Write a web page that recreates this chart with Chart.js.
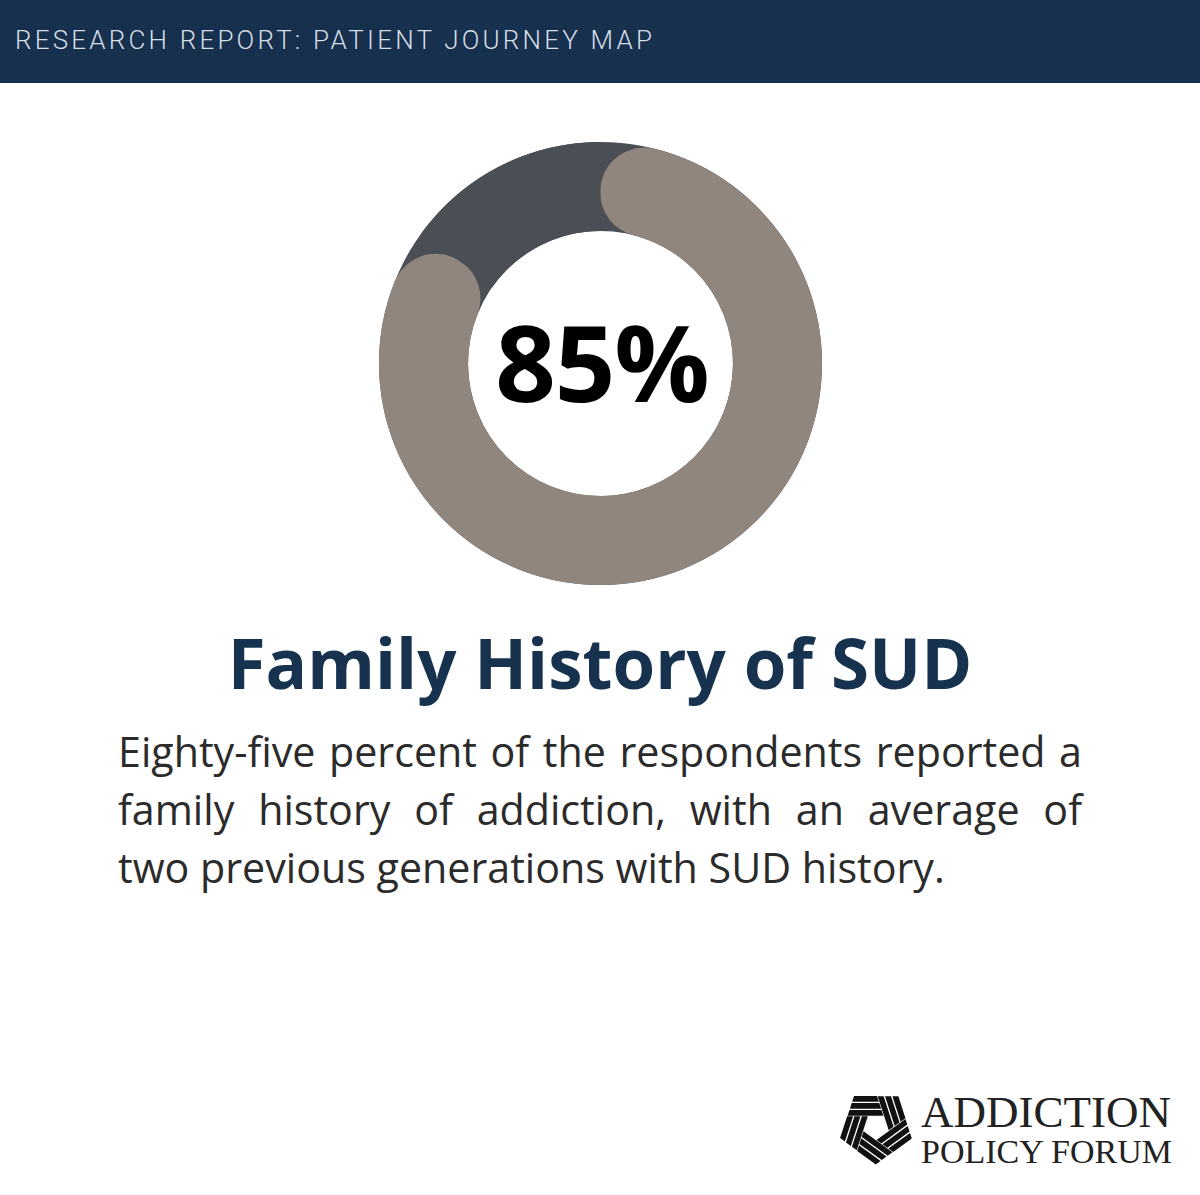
<!DOCTYPE html>
<html><head><meta charset="utf-8">
<script src="https://cdn.jsdelivr.net/npm/chart.js@4"></script>
<style>
html,body{margin:0;padding:0;background:#fff;}
body{position:relative;width:1200px;height:1195px;overflow:hidden;font-family:"Open Sans",sans-serif;}
#hdr{position:absolute;left:0;top:0;width:1200px;height:83px;background:#16304e;}
#hdrt{position:absolute;left:15px;top:24px;font:300 26px/32px Roboto,sans-serif;letter-spacing:3.2px;color:#d5dde5;white-space:nowrap;}
#wrap{position:absolute;left:379px;top:142px;width:443px;height:443px;}
#pct{position:absolute;left:400px;width:404px;top:292px;text-align:center;font:700 106px/138px "Open Sans",sans-serif;color:#000;letter-spacing:-1px;}
#ttl{position:absolute;left:0;width:1200px;top:616px;text-align:center;font:700 69px/92px "Open Sans",sans-serif;color:#17324f;}
#body{position:absolute;left:118px;top:722px;width:964px;font:400 41.2px/58px "Open Sans",sans-serif;color:#2b2b2b;}
#body div{white-space:nowrap;}
#body .j{white-space:normal;text-align:justify;text-align-last:justify;}
.lg{position:absolute;font-family:"Liberation Serif",serif;color:#222;white-space:nowrap;}
#l1{left:921px;top:1092px;font-size:45px;line-height:40px;}
#l2{left:921px;top:1135px;font-size:34px;line-height:34px;}
#emb{position:absolute;left:835px;top:1090px;}
</style></head><body>
<div id="hdr"><div id="hdrt">RESEARCH REPORT: PATIENT JOURNEY MAP</div></div>
<div id="wrap"><canvas id="c" width="443" height="443"></canvas></div>
<div id="pct">85%</div>
<div id="ttl">Family History of SUD</div>
<div id="body"><div class="j">Eighty-five percent of the respondents reported a</div><div class="j">family history of addiction, with an average of</div><div>two previous generations with SUD history.</div></div>
<svg id="emb" width="80" height="78" viewBox="0 0 240 234"></svg>
<div class="lg" id="l1">ADDICTION</div>
<div class="lg" id="l2">POLICY FORUM</div>
<script>
const categories = ["Family history of SUD", "No family history"];
const seriesValues = [85, 15];
const sliceColors = ["#91867d", "#4a4e55"];
const centerLabel = "85%";

const ringUnderlay = {
  id: "ringUnderlay",
  beforeDatasetsDraw(chart) {
    const a = chart.getDatasetMeta(0).data[0];
    const ctx = chart.ctx;
    ctx.save();
    ctx.beginPath();
    ctx.arc(a.x, a.y, (a.outerRadius + a.innerRadius) / 2, 0, Math.PI * 2);
    ctx.lineWidth = a.outerRadius - a.innerRadius;
    ctx.strokeStyle = sliceColors[1];
    ctx.stroke();
    ctx.restore();
  }
};

new Chart(document.getElementById("c"), {
  type: "doughnut",
  data: { labels: categories, datasets: [{
    data: seriesValues,
    backgroundColor: sliceColors,
    borderWidth: 0,
    borderRadius: ctx => ctx.dataIndex === 0 ? 45 : 0
  }]},
  options: {
    responsive: false,
    animation: false,
    cutout: "59.8%",
    rotation: 0,
    layout: { padding: 0 },
    plugins: { legend: { display: false }, tooltip: { enabled: false } }
  },
  plugins: [ringUnderlay]
});
document.getElementById("pct").textContent = centerLabel;

// logo emblem: five rotated striped blades
const svg = document.getElementById("emb");
const NS = "http://www.w3.org/2000/svg";
for (let i = 0; i < 5; i++) {
  const g = document.createElementNS(NS, "g");
  g.setAttribute("transform", `rotate(${i * 72} 123 110)`);
  [18, 39, 60].forEach(y0 => {
    const y1 = y0 + 17;
    const lx = y => 57 - (y - 18) * 0.325;
    const rx = y => 126 + (y - 18) * 0.325;
    const p = document.createElementNS(NS, "polygon");
    p.setAttribute("points", `${lx(y0)},${y0} ${rx(y0)},${y0} ${rx(y1)},${y1} ${lx(y1)},${y1}`);
    p.setAttribute("fill", "#111");
    g.appendChild(p);
  });
  svg.appendChild(g);
}
</script>
</body></html>
